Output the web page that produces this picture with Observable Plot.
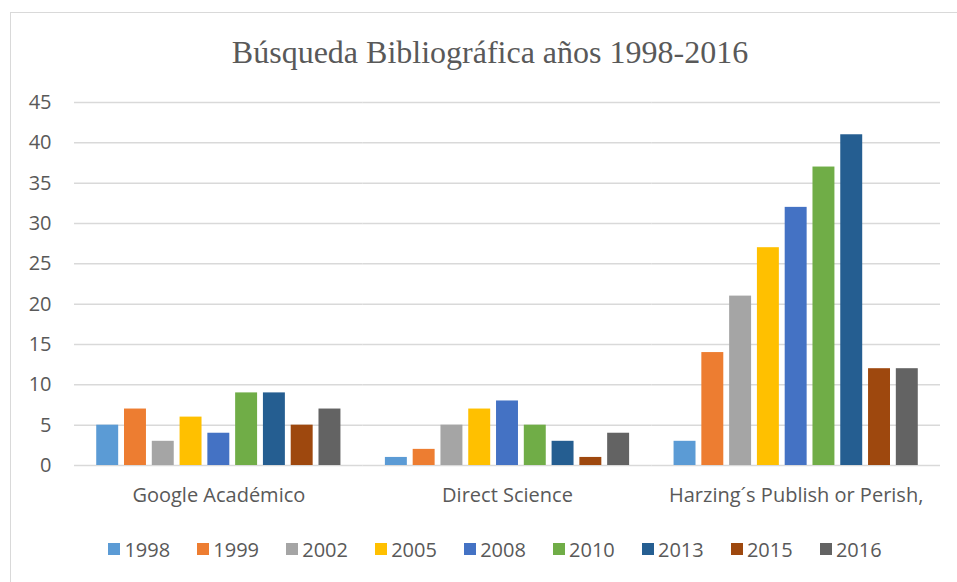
<!DOCTYPE html>
<html>
<head>
<meta charset="utf-8">
<script src="https://cdn.jsdelivr.net/npm/d3@7"></script>
<script src="https://cdn.jsdelivr.net/npm/@observablehq/plot@0.6"></script>
<style>
  html, body { margin: 0; padding: 0; background: #fff; }
  #wrap { position: relative; width: 957px; height: 582px; overflow: hidden; background: #fff; }
  #frame { position: absolute; left: 10px; top: 12px; width: 1000px; height: 620px; border: 1.5px solid #d9d9d9; box-sizing: border-box; }
  #title { position: absolute; left: 0; width: 980px; top: 36px; text-align: center; font-family: "Liberation Serif", "Times New Roman", serif; font-size: 32px; line-height: 32px; color: #595959; white-space: nowrap; }
  #chart { position: absolute; left: 0; top: 80px; }
  #legend { position: absolute; left: 0; width: 990px; top: 537px; height: 24px; display: flex; justify-content: center; align-items: center; font-family: "Open Sans", "Liberation Sans", sans-serif; font-size: 20px; color: #595959; }
  .item { display: flex; align-items: center; margin: 0 13.6px; }
  .sw { width: 12px; height: 12px; margin-right: 4px; }
</style>
</head>
<body>
<div id="wrap">
  <div id="frame"></div>
  <div id="title">Búsqueda Bibliográfica años 1998-2016</div>
  <div id="chart"></div>
  <div id="legend"></div>
</div>
<script>
const groups = ["Google Académico", "Direct Science", "Harzing´s Publish or Perish,"];
const years = ["1998", "1999", "2002", "2005", "2008", "2010", "2013", "2015", "2016"];
const googleAcademico = [5, 7, 3, 6, 4, 9, 9, 5, 7];
const directScience = [1, 2, 5, 7, 8, 5, 3, 1, 4];
const harzing = [3, 14, 21, 27, 32, 37, 41, 12, 12];
const colors = ["#5B9BD5", "#ED7D31", "#A5A5A5", "#FFC000", "#4472C4", "#70AD47", "#255E91", "#9E480E", "#636363"];
const yTicks = [0, 5, 10, 15, 20, 25, 30, 35, 40, 45];

const seriesByGroup = [googleAcademico, directScience, harzing];
const data = groups.flatMap((g, i) => seriesByGroup[i].map((v, j) => ({group: g, year: years[j], value: v})));

const chart = Plot.plot({
  width: 957,
  height: 440,
  marginTop: 22,
  marginBottom: 55,
  marginLeft: 74,
  marginRight: 17,
  style: {fontFamily: "'Open Sans', 'Liberation Sans', sans-serif", fontSize: "20px", color: "#595959", background: "transparent", overflow: "visible"},
  fx: {domain: groups, paddingInner: 0, paddingOuter: 0, round: false, label: null},
  x: {domain: years, paddingInner: 0.21, paddingOuter: 0.8, round: false, axis: null},
  y: {domain: [0, 45], axis: null},
  color: {domain: years, range: colors},
  marks: [
    Plot.ruleY(yTicks, {stroke: "#d9d9d9", strokeWidth: 1.5}),
    Plot.barY(data, {fx: "group", x: "year", y: "value", fill: "year"}),
    Plot.axisY(yTicks, {tickSize: 0, tickPadding: 23, label: null, fontSize: 20}),
    Plot.axisFx({anchor: "bottom", tickSize: 0, tickPadding: 22, label: null, fontSize: 20})
  ]
});
document.getElementById("chart").appendChild(chart);

const legend = document.getElementById("legend");
years.forEach((y, i) => {
  const item = document.createElement("div");
  item.className = "item";
  const sw = document.createElement("div");
  sw.className = "sw";
  sw.style.background = colors[i];
  const t = document.createElement("span");
  t.textContent = y;
  item.appendChild(sw);
  item.appendChild(t);
  legend.appendChild(item);
});
</script>
</body>
</html>
